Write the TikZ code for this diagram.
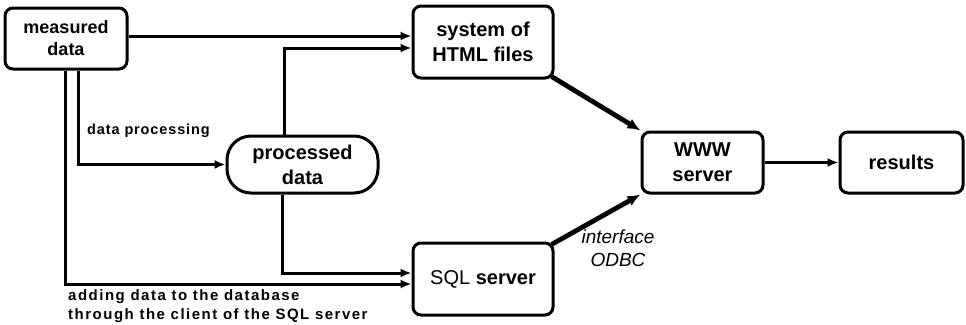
\documentclass[tikz,border=0pt]{standalone}
\usepackage{fontspec}
\setmainfont{Liberation Sans}
\usetikzlibrary{arrows.meta,calc}
\begin{document}
\begin{tikzpicture}[x=1pt,y=-1pt,
  box/.style={draw,line width=3pt,rounded corners=8pt,align=center,inner sep=0pt,
    font=\fontsize{20}{25}\selectfont\bfseries},
  conn/.style={line width=3pt,-{Latex[length=11pt,width=9pt]}},
  thickconn/.style={line width=4.8pt,-{Latex[length=13pt,width=11pt]}},
  lbl/.style={align=left,inner sep=0pt}]
\useasboundingbox (0,0) rectangle (966,324);
\node[box,minimum width=122pt,minimum height=61pt,font=\fontsize{18}{22}\selectfont\bfseries] (md) at (66,38.5) {measured\\data};
\node[box,minimum width=140pt,minimum height=72pt] (html) at (483,42) {system of\\HTML files};
\node[box,minimum width=151pt,minimum height=57pt,rounded corners=24pt] (pd) at (302.5,164.5) {processed\\data};
\node[box,minimum width=140pt,minimum height=72pt] (sql) at (483,279) {{\mdseries SQL} server};
\node[box,minimum width=121pt,minimum height=61pt] (www) at (702.5,162.5) {WWW\\server};
\node[box,minimum width=123pt,minimum height=61pt] (res) at (901.5,162.5) {results};
\coordinate (h1) at ($(html.west)+(0,-6)$);
\coordinate (h2) at ($(html.west)+(0,6)$);
\coordinate (s1) at ($(sql.west)+(0,-6)$);
\coordinate (s2) at ($(sql.west)+(0,5)$);
\draw[conn] (md.east |- h1) -- (h1);
\draw[conn] ([xshift=-18.5pt]pd.north) |- (h2);
\draw[conn] ([xshift=12pt]md.south) |- (pd.west);
\draw[conn] ([xshift=-1pt]md.south) |- (s2);
\draw[conn] ([xshift=-20.5pt]pd.south) |- (s1);
\draw[thickconn] ([xshift=-3pt,yshift=3pt]html.south east) -- (www.north west);
\draw[thickconn] ([xshift=-3pt,yshift=-3pt]sql.north east) -- (www.south west);
\draw[conn] (www.east) -- (res.west);
\node[lbl,anchor=west,font={\addfontfeatures{LetterSpace=6}\fontsize{14.5}{19}\selectfont\bfseries}] (dp) at (87,131) {data processing};
\node[lbl,anchor=north west,font={\addfontfeatures{LetterSpace=10}\fontsize{15}{19}\selectfont\bfseries}] (add) at (68,289) {adding data to the database\\through the client of the SQL server};
\node[font=\fontsize{19}{23}\selectfont\itshape,align=center,inner sep=0pt] (odbc) at (618,248) {interface\\ODBC};
\end{tikzpicture}
\end{document}
